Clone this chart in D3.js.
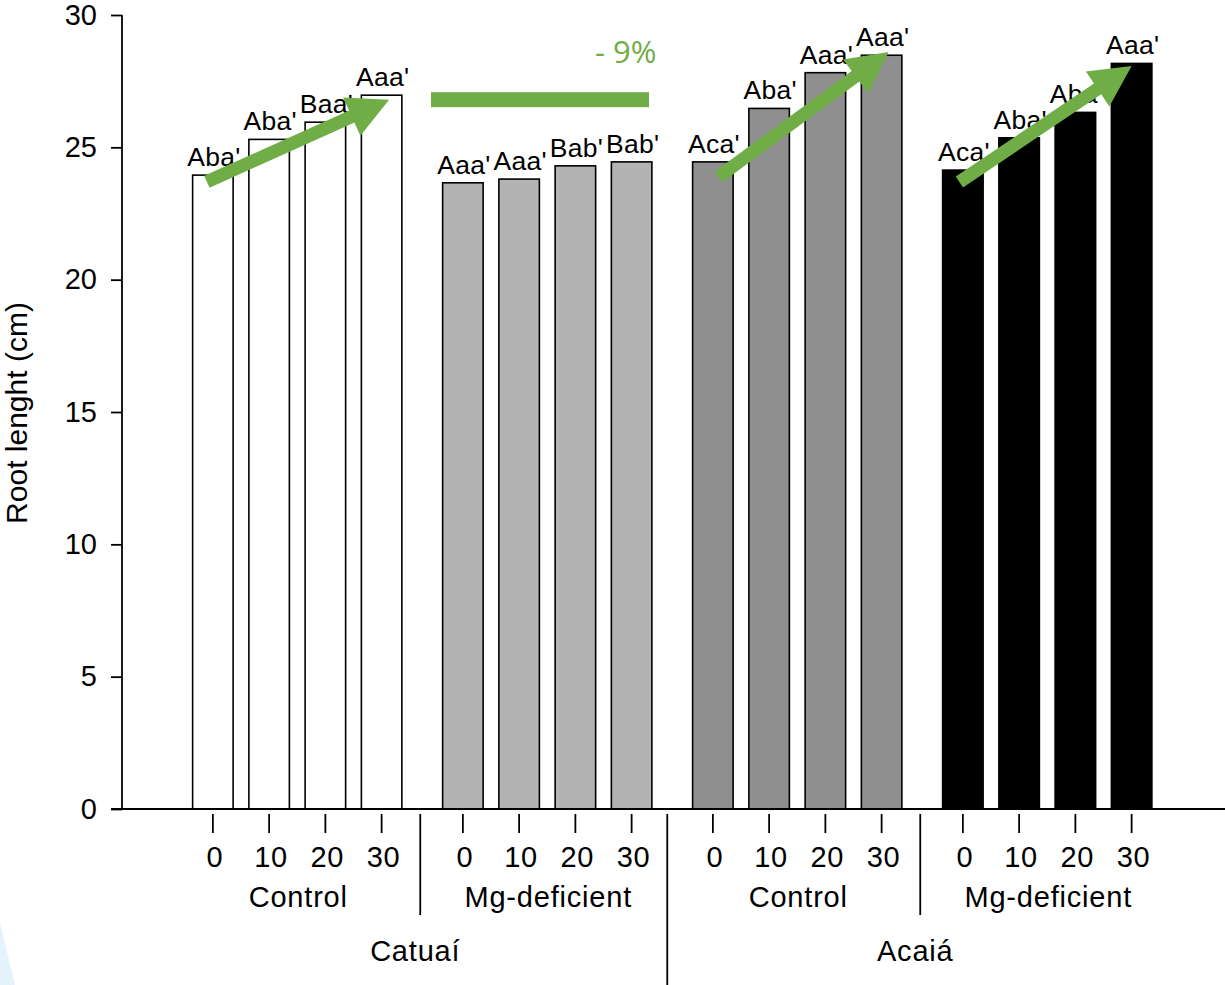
<!DOCTYPE html>
<html><head><meta charset="utf-8">
<script src="https://cdn.jsdelivr.net/npm/d3@7"></script>
<style>html,body{margin:0;padding:0;background:#fff;}svg{display:block;}</style>
</head><body>
<svg id="chart" width="1225" height="985"></svg>
<script>
// ---- data ----
const cultivars = ["Catuaí", "Acaiá"];
const treatments = ["Control", "Mg-deficient", "Control", "Mg-deficient"];
const doses = ["0", "10", "20", "30"];
const groupColors = ["#ffffff", "#b3b3b3", "#8f8f8f", "#000000"];
const values = [
  [23.95, 25.3, 25.95, 26.97],
  [23.66, 23.8, 24.3, 24.45],
  [24.45, 26.47, 27.82, 28.48],
  [24.14, 25.36, 26.32, 28.17]
];
const letters = [
  ["Aba'", "Aba'", "Baa'", "Aaa'"],
  ["Aaa'", "Aaa'", "Bab'", "Bab'"],
  ["Aca'", "Aba'", "Aaa'", "Aaa'"],
  ["Aca'", "Aba'", "Aba'", "Aaa'"]
];
const yTicks = [0, 5, 10, 15, 20, 25, 30];
const yTitle = "Root lenght (cm)";
// annotation arrows: group, value at tail (first bar), value at head (last bar)
const arrowGroups = [0, 2, 3];
const arrowFrom = [23.7, 23.88, 23.69];
const arrowTo = [26.8, 28.6, 28.07];
const diffLabel = "- 9%";
const diffLineValue = 26.8;

// ---- layout ----
const svg = d3.select("#chart");
const green = "#70ad47";
const font = "'Liberation Sans', Arial, sans-serif";
const axisFont = 29;
const ls = 0.8;

const y = d3.scaleLinear().domain([0, 30]).range([809, 15]);
const gx = d3.scaleBand().domain(d3.range(4)).range([172.25, 1172.25]).paddingInner(0.1).paddingOuter(0.05);
const bx = d3.scaleBand().domain(d3.range(4)).range([0, gx.bandwidth()]).paddingInner(0.28).paddingOuter(0.14);
const cx = (g, i) => gx(g) + bx(i) + bx.bandwidth() / 2;

// faint background decoration bottom-left
svg.append("path")
  .attr("d", "M0,923 L15,985 L0,985 Z")
  .attr("fill", "#e3f2fb");

// bars
const groups = svg.append("g");
values.forEach((vals, g) => {
  const gg = groups.append("g");
  gg.selectAll("rect").data(vals).join("rect")
    .attr("x", (d, i) => gx(g) + bx(i))
    .attr("y", d => y(d))
    .attr("width", bx.bandwidth())
    .attr("height", d => y(0) - y(d))
    .attr("fill", groupColors[g])
    .attr("stroke", "#000")
    .attr("stroke-width", 1.6);
  gg.selectAll("text").data(vals).join("text")
    .attr("x", (d, i) => cx(g, i) + 1)
    .attr("y", d => y(d) - 9)
    .attr("text-anchor", "middle")
    .attr("font-family", font)
    .attr("font-size", 26.5)
    .attr("letter-spacing", 0.3)
    .attr("fill", "#000")
    .text((d, i) => letters[g][i]);
});

// y axis
const yAxis = svg.append("g").attr("transform", "translate(122,0)")
  .call(d3.axisLeft(y).tickValues(yTicks).tickSize(11).tickPadding(14));
yAxis.select(".domain").attr("stroke", "#000").attr("stroke-width", 1.8).attr("d", `M0,${y(30)}V${y(0)}`);
yAxis.selectAll(".tick line").attr("stroke", "#000").attr("stroke-width", 1.8);
yAxis.selectAll(".tick text").attr("font-family", font).attr("font-size", axisFont).attr("fill", "#000");

svg.append("text")
  .attr("transform", `translate(27,413) rotate(-90)`)
  .attr("text-anchor", "middle")
  .attr("font-family", font).attr("font-size", 30)
  .text(yTitle);

// x baseline
svg.append("line").attr("x1", 111).attr("x2", 1225).attr("y1", y(0)).attr("y2", y(0))
  .attr("stroke", "#000").attr("stroke-width", 1.8);

// x ticks & labels
values.forEach((vals, g) => {
  doses.forEach((d, i) => {
    svg.append("line").attr("x1", cx(g, i)).attr("x2", cx(g, i))
      .attr("y1", 814).attr("y2", 833).attr("stroke", "#000").attr("stroke-width", 1.8);
    svg.append("text").attr("x", cx(g, i) + 2).attr("y", 867)
      .attr("text-anchor", "middle").attr("font-family", font).attr("font-size", axisFont)
      .attr("letter-spacing", ls)
      .text(d);
  });
  svg.append("text").attr("x", gx(g) + gx.bandwidth() / 2 + 1).attr("y", 907)
    .attr("text-anchor", "middle").attr("font-family", font).attr("font-size", axisFont)
    .attr("letter-spacing", ls)
    .text(treatments[g]);
});
// separators
[1, 2, 3].forEach(g => {
  const sx = gx(g) - gx.step() * gx.paddingInner() / 2 - (g === 2 ? 5 : 2);
  svg.append("line").attr("x1", sx).attr("x2", sx)
    .attr("y1", 814).attr("y2", g === 2 ? 985 : 915)
    .attr("stroke", "#000").attr("stroke-width", 1.8);
});
cultivars.forEach((c, k) => {
  const mid = (gx(2 * k) + gx(2 * k + 1) + gx.bandwidth()) / 2 - 7;
  svg.append("text").attr("x", mid).attr("y", 961)
    .attr("text-anchor", "middle").attr("font-family", font).attr("font-size", axisFont)
    .attr("letter-spacing", ls)
    .text(c);
});

// green arrows
function arrow(x1, y1, x2, y2) {
  const dx = x2 - x1, dy = y2 - y1, L = Math.hypot(dx, dy);
  const ux = dx / L, uy = dy / L, px = -uy, py = ux;
  const sw = 6.5, hw = 21, hl = 41;
  const bx0 = x2 - ux * hl, by0 = y2 - uy * hl;
  const pts = [
    [x1 + px * sw, y1 + py * sw],
    [bx0 + px * sw, by0 + py * sw],
    [bx0 + px * hw, by0 + py * hw],
    [x2, y2],
    [bx0 - px * hw, by0 - py * hw],
    [bx0 - px * sw, by0 - py * sw],
    [x1 - px * sw, y1 - py * sw]
  ];
  svg.append("path").attr("d", "M" + pts.map(p => p.join(",")).join("L") + "Z").attr("fill", green);
}
arrowGroups.forEach((g, k) => {
  const off = [[-6, 7.5], [5.5, 7], [-3.5, 0]][k];
  arrow(cx(g, 0) + off[0], y(arrowFrom[k]), cx(g, 3) + off[1], y(arrowTo[k]));
});

// difference bar and label
svg.append("rect").attr("x", 431).attr("width", 218)
  .attr("y", y(diffLineValue) - 7.5).attr("height", 15).attr("fill", green);
svg.append("text").attr("x", 595).attr("y", 63)
  .attr("font-family", "'Open Sans', sans-serif").attr("font-size", 31)
  .attr("fill", green).text(diffLabel);
</script>
</body></html>
